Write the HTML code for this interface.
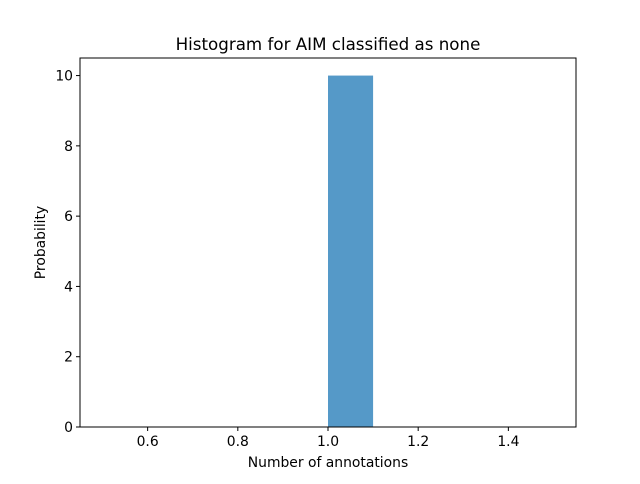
<!DOCTYPE html>
<html><head><meta charset="utf-8"><style>
body{margin:0;background:#fff;font-family:"DejaVu Sans","Liberation Sans",sans-serif}
svg text{font-family:"DejaVu Sans","Liberation Sans",sans-serif}
</style></head><body>
<svg width="640" height="480" xmlns="http://www.w3.org/2000/svg">
<rect width="640" height="480" fill="#fff"/>
<text x="328" y="50" text-anchor="middle" font-size="16.7" fill="#000">Histogram for AIM classified as none</text>
<g id="bars"></g>
<rect x="80" y="58" width="496" height="369" fill="none" stroke="#000" stroke-width="1"/>
<g id="xticks"></g><g id="yticks"></g>
<text x="328" y="467" text-anchor="middle" font-size="13.9">Number of annotations</text>
<text x="45" y="242.5" text-anchor="middle" font-size="13.9" transform="rotate(-90 45 242.5)">Probability</text>
</svg>
<script>
const binEdges=[1.0,1.1];
const binValues=[10];
const xTickLabels=[0.6,0.8,1.0,1.2,1.4];
const yTickLabels=[0,2,4,6,8,10];
const ns="http://www.w3.org/2000/svg";
const X0=80,X1=576,Y0=427,Y1=58,xmin=0.45,xmax=1.55,ymin=0,ymax=10.5;
const sx=v=>X0+(v-xmin)/(xmax-xmin)*(X1-X0);
const sy=v=>Y0-(v-ymin)/(ymax-ymin)*(Y0-Y1);
function mk(t,a,p){const e=document.createElementNS(ns,t);for(const k in a)e.setAttribute(k,a[k]);p.appendChild(e);return e;}
const bars=document.getElementById('bars');
binValues.forEach((v,i)=>{
 const r=mk('rect',{x:sx(binEdges[i]),y:sy(v),width:sx(binEdges[i+1])-sx(binEdges[i]),height:sy(0)-sy(v),fill:'#5599c8'},bars);
 
 
});
const xt=document.getElementById('xticks');
xTickLabels.forEach(v=>{
 const x=sx(v);
 mk('line',{x1:x,x2:x,y1:Y0,y2:Y0+4,stroke:'#000'},xt);
 const t=mk('text',{x:x,y:Y0+19,'text-anchor':'middle','font-size':13.9},xt);
 t.textContent=v.toFixed(1);
 
 
});
const yt=document.getElementById('yticks');
yTickLabels.forEach(v=>{
 const y=sy(v);
 mk('line',{x1:X0-4,x2:X0,y1:y,y2:y,stroke:'#000'},yt);
 const t=mk('text',{x:X0-7,y:y+5,'text-anchor':'end','font-size':13.9},yt);
 t.textContent=v;
 
 
});
</script>
</body></html>
